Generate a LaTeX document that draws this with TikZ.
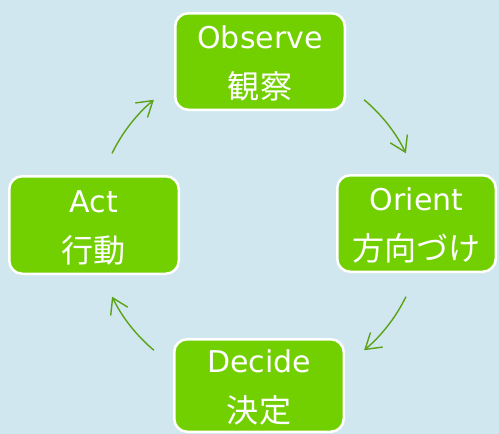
\documentclass[tikz,border=0pt]{standalone}
\usepackage{fontspec}
\setmainfont{DejaVu Sans}
\newfontfamily\cjk[Scale=1.07]{Noto Sans CJK JP}
\usetikzlibrary{arrows.meta,calc}
\definecolor{bg}{RGB}{208,231,239}
\definecolor{boxgreen}{RGB}{114,207,0}
\definecolor{arrgreen}{RGB}{92,162,22}
\newcommand{\topstrut}{\rule{0pt}{27.5pt}}
\begin{document}
\begin{tikzpicture}[x=1pt,y=1pt,
  stage/.style={draw=white, line width=2.5pt, fill=boxgreen, rounded corners=13pt,
    text=white, align=center, font=\fontsize{30}{50}\selectfont, inner sep=0pt},
  arr/.style={draw=arrgreen, line width=1.4pt, -{Straight Barb[length=15pt,width=19pt]}}]
\fill[bg] (0,0) rectangle (499,-434);
\useasboundingbox (0,0) rectangle (499,-434);
\coordinate (c) at (259,-225);
\node[stage, minimum width=169.5pt, minimum height=96.5pt] (obs) at (260,-61.5) {\topstrut Observe\\{\cjk 観察}};
\node[stage, minimum width=158.5pt, minimum height=96.5pt] (ori) at (416.5,-223.5) {\topstrut Orient\\{\cjk 方向づけ}};
\node[stage, minimum width=169.5pt, minimum height=92.5pt] (dec) at (259,-385.5) {\topstrut Decide\\{\cjk 決定}};
\node[stage, minimum width=169.5pt, minimum height=97.5pt] (act) at (94,-225) {\topstrut Act\\{\cjk 行動}};
\draw[arr] ($(c)+(50:163.5pt)$) arc[start angle=50, end angle=26, radius=163.5pt];
\draw[arr] ($(c)+(-26:163.5pt)$) arc[start angle=-26, end angle=-50, radius=163.5pt];
\draw[arr] ($(c)+(230:163.5pt)$) arc[start angle=230, end angle=206, radius=163.5pt];
\draw[arr] ($(c)+(154:163.5pt)$) arc[start angle=154, end angle=130, radius=163.5pt];
\end{tikzpicture}
\end{document}
